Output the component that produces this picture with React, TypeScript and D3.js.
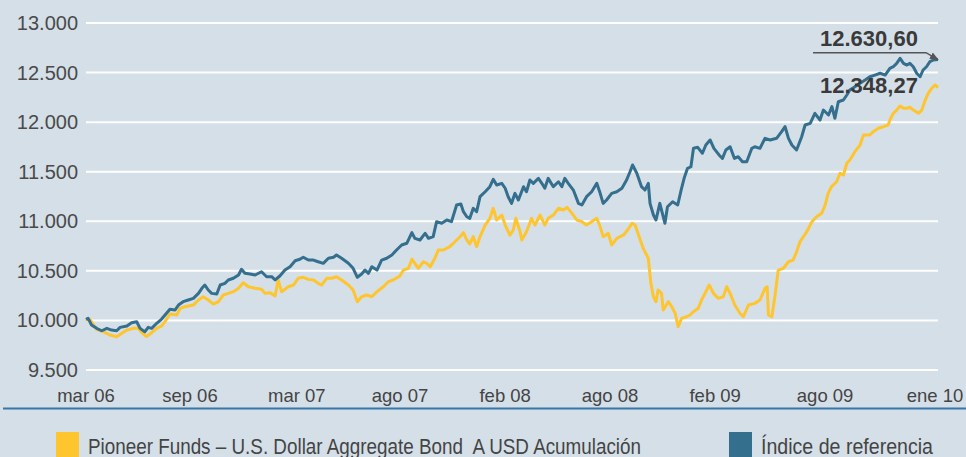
import React from "react";
import * as d3 from "d3";

const W = 966;
const H = 457;

const yTicks = [9500, 10000, 10500, 11000, 11500, 12000, 12500, 13000];
const xTickLabels = ["mar 06", "sep 06", "mar 07", "ago 07", "feb 08", "ago 08", "feb 09", "ago 09", "ene 10"];
const xTickWeeks = [0, 24.4, 49.5, 73.7, 98.4, 123, 147.7, 173.5, 199.3];

const fundName = "Pioneer Funds – U.S. Dollar Aggregate Bond  A USD Acumulación";
const indexName = "Índice de referencia";
const fundLast = "12.348,27";
const indexLast = "12.630,60";

// [week index, value]
const indexSeries: [number, number][] = [
  [0, 10010], [0.5, 10021], [1.3, 9954], [2.5, 9920], [3.7, 9896], [4.9, 9920], [6.0, 9903], [7.2, 9896], [8.0, 9930], [9.6, 9944],
  [10.7, 9977], [11.9, 9987], [12.7, 9920], [13.8, 9886], [14.6, 9930], [15.4, 9920], [16.6, 9971], [17.7, 10011], [18.9, 10072], [19.7, 10112],
  [20.9, 10105], [21.7, 10155], [22.8, 10189], [24.0, 10206], [25.2, 10223], [26.4, 10273], [27.2, 10324], [27.9, 10357], [28.7, 10307], [29.5, 10273],
  [30.7, 10266], [31.5, 10357], [32.6, 10374], [33.4, 10408], [34.6, 10425], [35.8, 10458], [36.5, 10516], [37.3, 10475], [38.5, 10468], [39.7, 10458],
  [41.2, 10491], [42.4, 10441], [43.6, 10441], [44.4, 10408], [45.5, 10448], [46.7, 10508], [47.9, 10542], [49.1, 10602], [50.2, 10617], [51.0, 10637],
  [52.2, 10609], [53.4, 10609], [54.5, 10592], [55.7, 10576], [56.9, 10627], [58.1, 10637], [58.8, 10660], [60.0, 10627], [61.6, 10576], [62.7, 10526],
  [63.7, 10435], [64.7, 10468], [65.5, 10508], [66.3, 10475], [67.1, 10542], [68.3, 10508], [69.4, 10609], [70.6, 10627], [71.8, 10660], [72.9, 10710],
  [74.1, 10761], [75.3, 10778], [76.5, 10885], [77.2, 10828], [78.4, 10811], [79.6, 10879], [80.4, 10828], [81.5, 10845], [82.3, 10996], [83.5, 10980],
  [84.7, 11013], [85.8, 10996], [87.0, 11164], [88.0, 11174], [88.6, 11097], [89.4, 11046], [90.1, 11030], [90.9, 11131], [91.7, 11097], [92.5, 11248],
  [93.7, 11298], [94.8, 11349], [95.6, 11423], [96.4, 11366], [97.6, 11383], [98.4, 11333], [99.1, 11248], [99.9, 11181], [100.7, 11282], [101.5, 11215],
  [102.7, 11349], [103.4, 11298], [104.2, 11416], [105.0, 11383], [106.2, 11433], [107.0, 11383], [107.7, 11333], [108.5, 11433], [109.7, 11349], [110.9, 11399],
  [111.7, 11349], [112.4, 11433], [113.2, 11383], [114.4, 11315], [115.6, 11181], [116.4, 11164], [117.5, 11248], [118.7, 11298], [119.9, 11383], [120.7, 11282],
  [121.4, 11181], [122.2, 11215], [123.4, 11282], [124.6, 11298], [125.8, 11333], [126.9, 11416], [127.7, 11500], [128.3, 11568], [129.3, 11484], [130.4, 11349],
  [131.2, 11315], [132.0, 11383], [132.4, 11181], [133.2, 11063], [133.8, 11013], [134.7, 11181], [135.3, 11080], [135.9, 10980], [136.5, 11147], [137.7, 11197],
  [138.9, 11164], [139.7, 11315], [140.4, 11433], [141.2, 11534], [142.0, 11550], [142.6, 11736], [143.6, 11746], [144.7, 11686], [145.5, 11769], [146.5, 11820],
  [147.4, 11736], [148.6, 11669], [149.4, 11635], [150.2, 11719], [151.2, 11752], [152.2, 11635], [153.1, 11651], [154.1, 11601], [155.1, 11601], [156.3, 11736],
  [157.0, 11752], [158.2, 11736], [159.4, 11837], [160.6, 11820], [162.1, 11837], [163.3, 11904], [164.1, 11954], [164.9, 11837], [165.7, 11769], [166.8, 11719],
  [168.0, 11853], [168.8, 11971], [170.0, 11988], [171.1, 12089], [172.3, 12022], [173.1, 12122], [174.3, 12072], [175.1, 12156], [175.8, 12039], [176.6, 12206],
  [177.8, 12223], [178.6, 12274], [179.3, 12324], [180.5, 12357], [181.7, 12392], [182.9, 12425], [184.0, 12458], [185.2, 12475], [186.4, 12493], [187.6, 12475],
  [188.7, 12543], [189.5, 12559], [190.3, 12593], [191.1, 12644], [191.9, 12593], [192.7, 12576], [193.4, 12593], [194.2, 12559], [195.0, 12493], [195.8, 12458],
  [196.5, 12526], [197.3, 12559], [198.1, 12610], [198.9, 12627], [200, 12630.6],
];

const fundSeries: [number, number][] = [
  [0, 10000], [0.9, 10011], [2.5, 9910], [4.1, 9886], [5.6, 9853], [7.2, 9836], [8.4, 9870], [9.6, 9903], [11.1, 9920], [12.3, 9920],
  [13.1, 9876], [14.2, 9836], [15.4, 9876], [16.6, 9920], [17.8, 9944], [18.9, 10011], [19.7, 10065], [21.3, 10055], [22.1, 10122], [23.2, 10138],
  [25.2, 10155], [26.4, 10206], [27.5, 10239], [28.7, 10206], [29.9, 10165], [31.1, 10189], [32.2, 10256], [33.4, 10273], [34.6, 10290], [35.8, 10324],
  [36.9, 10380], [38.1, 10340], [39.7, 10324], [41.2, 10314], [42.0, 10273], [43.2, 10280], [44.4, 10246], [45.1, 10408], [45.9, 10290], [47.5, 10340],
  [48.7, 10357], [49.8, 10425], [51.0, 10435], [52.2, 10414], [53.4, 10408], [54.5, 10374], [55.3, 10357], [56.5, 10425], [57.7, 10425], [58.8, 10441],
  [60.0, 10408], [61.6, 10357], [62.7, 10307], [63.7, 10189], [64.7, 10239], [65.9, 10256], [67.1, 10239], [68.3, 10290], [69.8, 10340], [71.0, 10391],
  [72.1, 10408], [73.7, 10448], [74.5, 10508], [75.7, 10526], [76.5, 10617], [77.2, 10576], [78.0, 10526], [79.2, 10592], [80.0, 10576], [80.8, 10542],
  [81.9, 10627], [82.7, 10710], [83.9, 10710], [85.4, 10744], [86.6, 10794], [87.8, 10844], [88.6, 10885], [89.4, 10811], [90.1, 10771], [90.9, 10845],
  [91.7, 10744], [92.5, 10845], [93.7, 10962], [94.8, 11030], [95.6, 11131], [96.4, 11013], [97.6, 11063], [98.4, 10962], [99.5, 10861], [100.3, 10912],
  [100.9, 11030], [101.9, 10895], [102.3, 10811], [103.4, 10895], [104.6, 11030], [105.4, 10962], [106.6, 11063], [107.7, 10962], [108.5, 11030], [109.7, 11063],
  [110.9, 11131], [112.1, 11114], [112.9, 11141], [114.1, 11080], [115.2, 11013], [116.4, 10996], [117.5, 10962], [118.7, 10996], [119.9, 11030], [120.7, 10945],
  [121.4, 10845], [122.6, 10878], [123.4, 10761], [124.6, 10828], [126.2, 10862], [127.4, 10929], [128.2, 10980], [128.9, 10962], [129.7, 10862], [130.8, 10727],
  [132.0, 10626], [132.6, 10374], [133.2, 10239], [133.8, 10189], [134.3, 10307], [135.1, 10273], [135.5, 10105], [136.7, 10189], [137.5, 10138], [138.3, 10072],
  [139.0, 9937], [139.8, 10021], [141.0, 10037], [141.8, 10055], [142.6, 10088], [143.7, 10122], [144.5, 10206], [145.3, 10273], [146.3, 10357], [147.3, 10273],
  [148.4, 10223], [149.6, 10239], [150.4, 10340], [151.2, 10273], [152.3, 10155], [153.5, 10072], [154.3, 10037], [155.5, 10155], [157.0, 10172], [158.2, 10206],
  [159.4, 10324], [159.9, 10340], [160.2, 10055], [161.0, 10037], [161.7, 10239], [162.5, 10508], [163.7, 10526], [164.9, 10592], [166.0, 10609], [166.8, 10693],
  [167.6, 10794], [168.4, 10844], [169.2, 10895], [170.4, 10996], [171.5, 11046], [172.7, 11080], [173.5, 11164], [174.2, 11282], [175.0, 11349], [176.2, 11399],
  [177.0, 11484], [177.8, 11467], [178.6, 11585], [179.3, 11618], [180.5, 11702], [181.7, 11769], [182.5, 11870], [183.3, 11870], [184.0, 11870], [184.8, 11904],
  [186.0, 11938], [187.2, 11954], [188.3, 11971], [188.7, 12022], [189.5, 12089], [190.3, 12122], [191.1, 12163], [191.9, 12140], [192.7, 12140], [193.4, 12150],
  [194.2, 12122], [195.4, 12089], [196.2, 12122], [197.0, 12223], [197.7, 12291], [198.5, 12341], [199.3, 12375], [200, 12348.27],
];

const BG = "#d5dfe8";
const FUND_COLOR = "#fec52e";
const INDEX_COLOR = "#346f8e";
const TEXT = "#444444";
const FONT = "'Liberation Sans', Arial, sans-serif";

const fmtTick = (v: number) => d3.format(",")(v).replace(/,/g, ".");

export default function App() {
  const x = d3.scaleLinear().domain([0, 200]).range([86, 938]);
  const y = d3.scaleLinear().domain([9500, 13000]).range([370, 23]);
  const line = d3
    .line<[number, number]>()
    .x((d) => x(d[0]))
    .y((d) => y(d[1]));

  const lastIdx = indexSeries[indexSeries.length - 1];
  const ax = x(lastIdx[0]);
  const ay = y(lastIdx[1]);

  return (
    <>
      <style>{`body{margin:0}`}</style>
      <svg width={W} height={H} style={{ display: "block" }}>
        <defs>
          <marker id="arr" viewBox="0 0 10 10" refX="9" refY="5" markerWidth="6" markerHeight="6" orient="auto">
            <path d="M0,1 L10,5 L0,9 Z" fill="#555" />
          </marker>
        </defs>
        <rect x={0} y={0} width={W} height={H} fill={BG} />
        {yTicks.map((t) => (
          <g key={t}>
            <line x1={x(0)} x2={x(200)} y1={y(t)} y2={y(t)} stroke="#ffffff" strokeWidth={2} />
            <text x={78} y={y(t) + 7} textAnchor="end" fontFamily={FONT} fontSize={20} fill="#4a4a4a">
              {fmtTick(t)}
            </text>
          </g>
        ))}
        {xTickLabels.map((lab, i) => (
          <text key={lab} x={x(xTickWeeks[i])} y={401.5} textAnchor="middle" fontFamily={FONT} fontSize={18.5} fill={TEXT}>
            {lab}
          </text>
        ))}
        <path d={line(fundSeries) || ""} fill="none" stroke={FUND_COLOR} strokeWidth={3} strokeLinejoin="round" />
        <path d={line(indexSeries) || ""} fill="none" stroke={INDEX_COLOR} strokeWidth={3} strokeLinejoin="round" />
        <path
          d={`M813,52.7 L${ax - 12},52.7 L${ax},${ay}`}
          fill="none"
          stroke="#555"
          strokeWidth={1.5}
          markerEnd="url(#arr)"
        />
        <text x={820} y={46} fontFamily={FONT} fontWeight="bold" fontSize={22} fill="#3a3a3a">
          {indexLast}
        </text>
        <text x={820} y={93.3} fontFamily={FONT} fontWeight="bold" fontSize={22} fill="#3a3a3a">
          {fundLast}
        </text>
        <line x1={3} x2={W} y1={408.5} y2={408.5} stroke="#3776a8" strokeWidth={2} />
        <rect x={56} y={432} width={23} height={30} fill={FUND_COLOR} />
        <text
          x={88}
          y={454}
          fontFamily={FONT}
          fontSize={22}
          fill={TEXT}
          textLength={553}
          lengthAdjust="spacingAndGlyphs"
          style={{ whiteSpace: "pre" }}
        >
          {fundName}
        </text>
        <rect x={729} y={432} width={23} height={30} fill={INDEX_COLOR} />
        <text
          x={761}
          y={454}
          fontFamily={FONT}
          fontSize={22}
          fill={TEXT}
          textLength={172}
          lengthAdjust="spacingAndGlyphs"
        >
          {indexName}
        </text>
      </svg>
    </>
  );
}
